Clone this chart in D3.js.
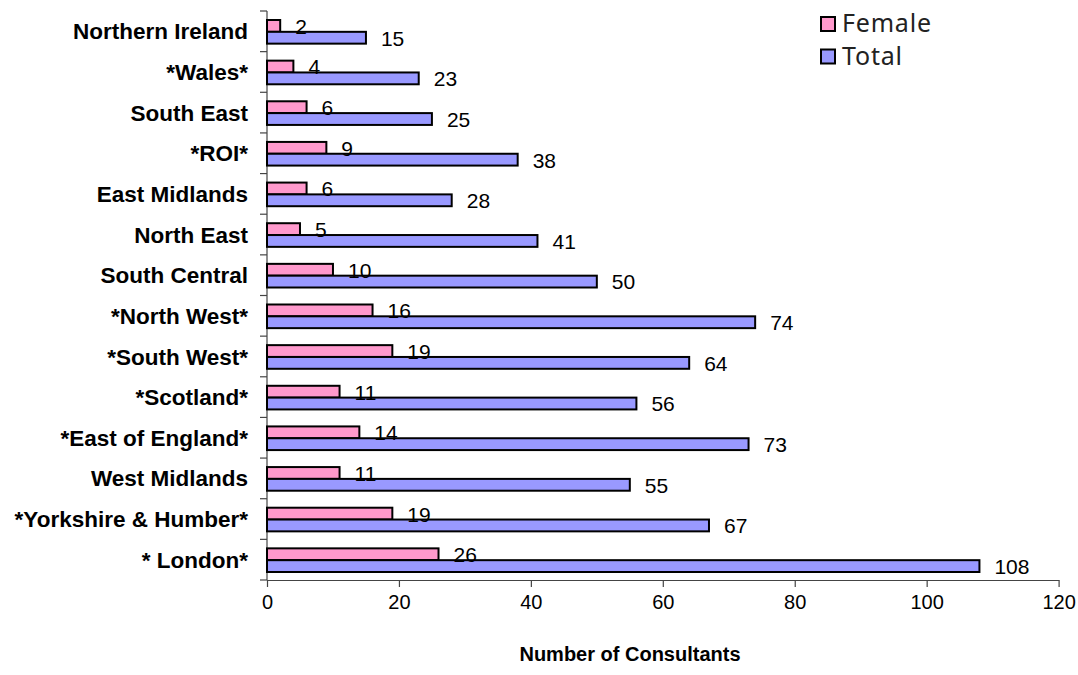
<!DOCTYPE html>
<html>
<head>
<meta charset="utf-8">
<script src="https://cdn.jsdelivr.net/npm/d3@7"></script>
<style>
  body { margin: 0; background: #fff; }
  svg text { font-family: Arial, "Liberation Sans", sans-serif; }
</style>
</head>
<body>
<div class="chart"></div>
<script>
// categories from top to bottom
var regions = ["Northern Ireland", "*Wales*", "South East", "*ROI*", "East Midlands",
  "North East", "South Central", "*North West*", "*South West*", "*Scotland*",
  "*East of England*", "West Midlands", "*Yorkshire & Humber*", "* London*"];
var female = [2, 4, 6, 9, 6, 5, 10, 16, 19, 11, 14, 11, 19, 26];
var total = [15, 23, 25, 38, 28, 41, 50, 74, 64, 56, 73, 55, 67, 108];
var seriesNames = ["Female", "Total"];
var seriesColors = ["#FF99CC", "#9999FF"];
var xTicks = [0, 20, 40, 60, 80, 100, 120];

var svgWidth = 1078;
var svgHeight = 675;
var margin = { top: 11, right: 20, bottom: 96, left: 267 };
var width = 1058.6 - margin.left;
var height = 580 - margin.top;

var svg = d3.select(".chart")
  .append("svg")
  .attr("width", svgWidth)
  .attr("height", svgHeight);

var chartGroup = svg.append("g")
  .attr("transform", `translate(${margin.left}, ${margin.top})`);

var data = regions.map(function (r, i) {
  return { region: r, values: [female[i], total[i]] };
});

var xScale = d3.scaleLinear().domain([0, 120]).range([0, width]);
var yScale = d3.scaleBand().domain(regions).range([0, height]).paddingInner(0).paddingOuter(0);
var barScale = d3.scaleBand().domain([0, 1]).range([9, yScale.bandwidth() - 8]);

// axes
var bottomAxis = d3.axisBottom(xScale).tickValues(xTicks).tickSize(7).tickSizeOuter(0).tickPadding(8);
var xAxisG = chartGroup.append("g")
  .attr("transform", `translate(0, ${height})`)
  .call(bottomAxis);
xAxisG.selectAll("text").attr("font-size", 20).attr("fill", "#000");
xAxisG.selectAll("line, path").attr("stroke", "#444").attr("stroke-width", 1.2);

// y axis line and ticks at band edges
chartGroup.append("line")
  .attr("x1", 0).attr("x2", 0).attr("y1", 0).attr("y2", height)
  .attr("stroke", "#444").attr("stroke-width", 1.2);
chartGroup.selectAll(".ytick")
  .data(regions.concat(["end"]))
  .enter()
  .append("line")
  .attr("x1", -7).attr("x2", 0)
  .attr("y1", (d, i) => i * yScale.bandwidth())
  .attr("y2", (d, i) => i * yScale.bandwidth())
  .attr("stroke", "#444").attr("stroke-width", 1.2);

chartGroup.selectAll(".ylabel")
  .data(regions)
  .enter()
  .append("text")
  .attr("x", -19)
  .attr("y", d => yScale(d) + yScale.bandwidth() / 2)
  .attr("dy", "0.36em")
  .attr("text-anchor", "end")
  .attr("font-size", 22.5)
  .attr("font-weight", "bold")
  .text(d => d);

// bars
var groups = chartGroup.selectAll(".region")
  .data(data)
  .enter()
  .append("g")
  .attr("transform", d => `translate(0, ${yScale(d.region)})`);

groups.selectAll("rect")
  .data(d => d.values)
  .enter()
  .append("rect")
  .attr("x", 0)
  .attr("y", (d, i) => barScale(i))
  .attr("width", d => xScale(d))
  .attr("height", barScale.bandwidth())
  .attr("fill", (d, i) => seriesColors[i])
  .attr("stroke", "#000")
  .attr("stroke-width", 2);

groups.selectAll(".val")
  .data(d => d.values)
  .enter()
  .append("text")
  .attr("x", d => xScale(d) + 15)
  .attr("y", (d, i) => barScale(i) + barScale.bandwidth() + 2)
  .attr("font-size", 21)
  .attr("fill", "#000")
  .text(d => d);

// axis title
svg.append("text")
  .attr("x", 630)
  .attr("y", 661)
  .attr("text-anchor", "middle")
  .attr("font-size", 20)
  .attr("font-weight", "bold")
  .text("Number of Consultants");

// legend
var legend = svg.append("g").attr("transform", "translate(821, 17)");
var items = legend.selectAll("g")
  .data(seriesNames)
  .enter()
  .append("g")
  .attr("transform", (d, i) => `translate(0, ${i * 32.5})`);
items.append("rect")
  .attr("width", 14).attr("height", 14)
  .attr("fill", (d, i) => seriesColors[i])
  .attr("stroke", "#000").attr("stroke-width", 2);
items.append("text")
  .attr("x", 21).attr("y", 15)
  .attr("font-size", 25)
  .attr("letter-spacing", 0.8)
  .style("font-family", "'Noto Sans', sans-serif")
  .attr("fill", "#222")
  .text(d => d);
</script>
</body>
</html>
